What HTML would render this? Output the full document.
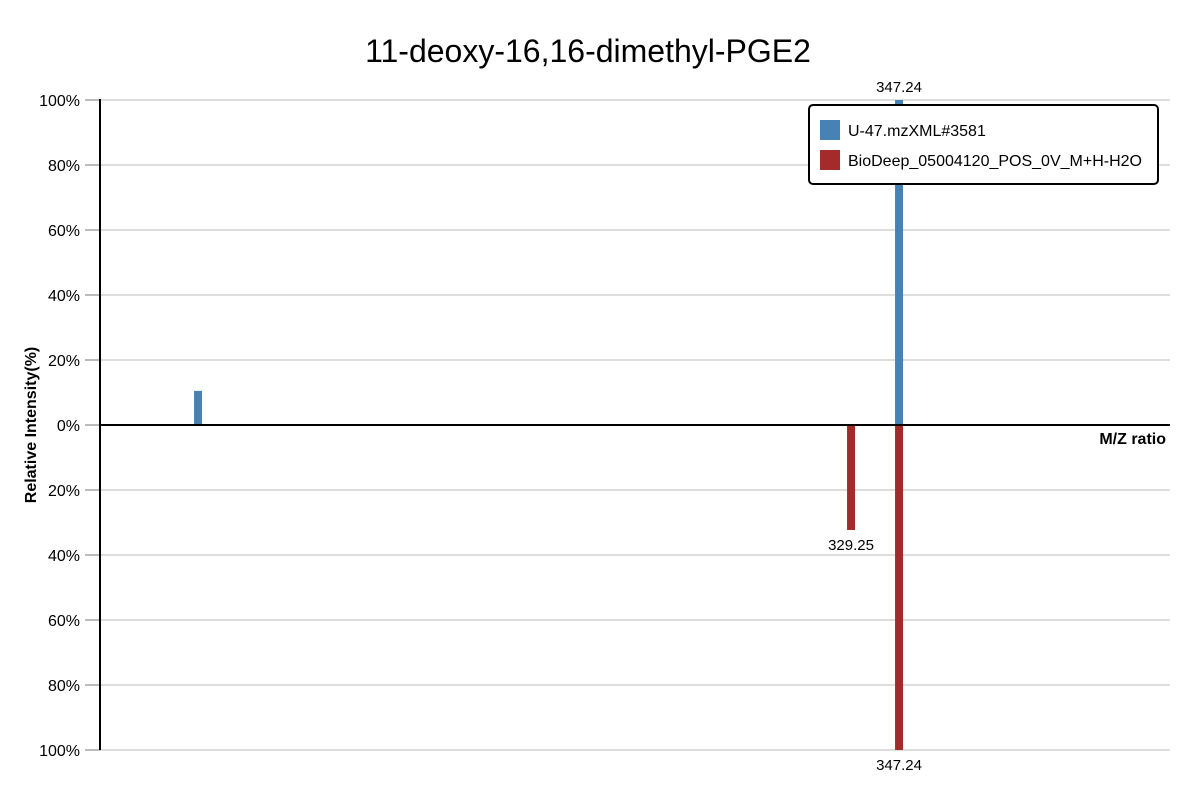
<!DOCTYPE html>
<html><head><meta charset="utf-8"><style>
body{margin:0;background:#fff;font-family:"Liberation Sans",sans-serif}
svg text{font-family:"Liberation Sans",sans-serif}
</style></head><body>
<svg id="chart" width="1200" height="800" xmlns="http://www.w3.org/2000/svg">
<text x="588" y="62" font-size="32" text-anchor="middle" fill="#000">11-deoxy-16,16-dimethyl-PGE2</text>
<g id="grid"></g>
<g id="bars"></g>
<line x1="100" y1="99" x2="100" y2="750" stroke="#000" stroke-width="2"/>
<line x1="100" y1="425" x2="1170" y2="425" stroke="#000" stroke-width="2"/>
<text x="1166" y="444" font-size="16" font-weight="bold" text-anchor="end">M/Z ratio</text>
<text transform="translate(36,425) rotate(-90)" font-size="16" font-weight="bold" text-anchor="middle">Relative Intensity(%)</text>
<g>
<rect x="809" y="105" width="349" height="79" rx="4" fill="#fff" stroke="#000" stroke-width="2"/>
<rect x="820" y="120" width="20" height="20" fill="#4682b4"/>
<text x="848" y="136" font-size="16">U-47.mzXML#3581</text>
<rect x="820" y="150" width="20" height="20" fill="#a52a2a"/>
<text x="848" y="166" font-size="16">BioDeep_05004120_POS_0V_M+H-H2O</text>
</g>
</svg>
<script>
const yTicks=[100,80,60,40,20,0,20,40,60,80,100];
const topMz=[84.5,347.24];
const topInt=[10.5,100];
const topLabels=["","347.24"];
const botMz=[329.25,347.24];
const botInt=[32.3,100];
const botLabels=["329.25","347.24"];
const xMin=47.75,xMax=448.8;
const NS="http://www.w3.org/2000/svg";
const xs=m=>100+(m-xMin)/(xMax-xMin)*1070;
const ys=v=>425-v/100*325; // v signed: positive up
function mk(tag,attrs,parent){const e=document.createElementNS(NS,tag);for(const k in attrs)e.setAttribute(k,attrs[k]);parent.appendChild(e);return e;}
const grid=document.getElementById('grid');
yTicks.forEach((t,i)=>{
  const v=100-i*20;const y=ys(v);
  const l=mk('line',{x1:85,x2:1170,y1:y,y2:y,stroke:'#ddd','stroke-width':2},grid);
  
  
  const tk=mk('line',{x1:85,x2:100,y1:y,y2:y,stroke:'#bbb','stroke-width':2},grid);
  
  
  const tx=mk('text',{x:80,y:y+6,'font-size':16,'text-anchor':'end'},grid);
  tx.textContent=t+'%';
  
  
});
const bars=document.getElementById('bars');
topMz.forEach((m,i)=>{
  const x=xs(m),y=ys(topInt[i]);
  const r=mk('rect',{x:x-4,y:y,width:8,height:425-y,fill:'#4682b4'},bars);
  
  
  if(topLabels[i]){const t=mk('text',{x:x,y:y-8,'font-size':15,'text-anchor':'middle'},bars);t.textContent=topLabels[i];
  
  }
});
botMz.forEach((m,i)=>{
  const x=xs(m),y=ys(-botInt[i]);
  const r=mk('rect',{x:x-4,y:425,width:8,height:y-425,fill:'#a52a2a'},bars);
  
  
  if(botLabels[i]){const t=mk('text',{x:x,y:y+20,'font-size':15,'text-anchor':'middle'},bars);t.textContent=botLabels[i];
  
  }
});
</script>
</body></html>
